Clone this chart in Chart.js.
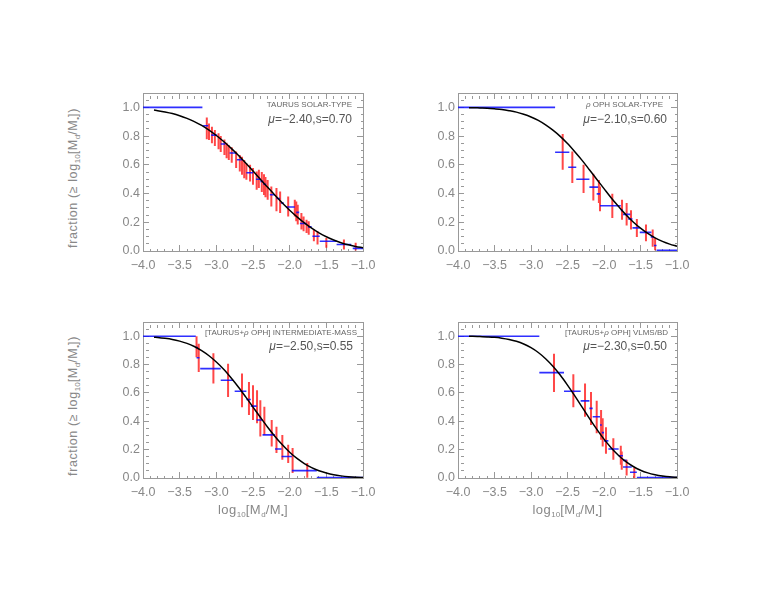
<!DOCTYPE html>
<html>
<head>
<meta charset="utf-8">
<title>Disk mass distributions</title>
<script src="https://cdn.jsdelivr.net/npm/chart.js"></script>
<style>
  body { margin: 0; background: #fff; }
  #page { position: relative; width: 770px; height: 595px; overflow: hidden;
          font-family: "Liberation Sans", Arial, sans-serif; color: #888; }
  canvas { position: absolute; }
  .lbl { position: absolute; white-space: nowrap; line-height: 1; }
  .ytitle { font-size: 12.5px; letter-spacing: 0.6px; transform: translate(-50%, -50%) rotate(-90deg); }
  .xtitle { font-size: 13px; letter-spacing: 0.5px; transform: translate(-50%, -50%); }
  .sample { font-size: 8px; transform: translate(-100%, -50%); color: #666; }
  .fit { font-size: 12px; transform: translate(-100%, -50%); color: #555; }
  .sb { font-size: 8px; position: relative; top: 3px; letter-spacing: 0; }
</style>
</head>
<body>
<div id="page"></div>
<script>
// tick labels
const xTicks = [-4.0, -3.5, -3.0, -2.5, -2.0, -1.5, -1.0];
const yTicks = [0.0, 0.2, 0.4, 0.6, 0.8, 1.0];

// panel texts
const sampleNames = ['TAURUS SOLAR-TYPE', '<i>\u03c1</i> OPH SOLAR-TYPE',
  '[TAURUS+<i>\u03c1</i> OPH] INTERMEDIATE-MASS', '[TAURUS+<i>\u03c1</i> OPH] VLMS/BD'];
const fitLabels = ['<i>\u03bc</i>=\u22122.40,s=0.70', '<i>\u03bc</i>=\u22122.10,s=0.60',
  '<i>\u03bc</i>=\u22122.50,s=0.55', '<i>\u03bc</i>=\u22122.30,s=0.50'];

// model curves (fraction >= x)
const curveX = [-3.85, -3.8, -3.7, -3.6, -3.5, -3.4, -3.3, -3.2, -3.1, -3.0, -2.9, -2.8, -2.7, -2.6, -2.5,
  -2.4, -2.3, -2.2, -2.1, -2.0, -1.9, -1.8, -1.7, -1.6, -1.5, -1.4, -1.3, -1.2, -1.1, -1.0];
const p1Curve = [0.981, 0.977, 0.968, 0.957, 0.942, 0.923, 0.901, 0.874, 0.841, 0.804, 0.762, 0.716, 0.666, 0.612, 0.557,
  0.500, 0.443, 0.388, 0.334, 0.284, 0.238, 0.196, 0.159, 0.126, 0.099, 0.077, 0.058, 0.043, 0.032, 0.023];
const p2Curve = [0.998, 0.998, 0.996, 0.994, 0.990, 0.985, 0.977, 0.967, 0.952, 0.933, 0.909, 0.878, 0.841, 0.798, 0.748,
  0.691, 0.631, 0.566, 0.500, 0.434, 0.369, 0.309, 0.252, 0.202, 0.159, 0.122, 0.091, 0.067, 0.048, 0.033];
const p3Curve = [0.993, 0.991, 0.985, 0.977, 0.965, 0.949, 0.927, 0.898, 0.862, 0.818, 0.767, 0.707, 0.642, 0.572, 0.500,
  0.428, 0.358, 0.293, 0.234, 0.182, 0.138, 0.102, 0.073, 0.051, 0.035, 0.023, 0.015, 0.009, 0.005, 0.003];
const p4Curve = [0.999, 0.999, 0.997, 0.995, 0.992, 0.986, 0.977, 0.964, 0.945, 0.919, 0.885, 0.841, 0.788, 0.726, 0.655,
  0.579, 0.500, 0.421, 0.345, 0.274, 0.212, 0.159, 0.115, 0.081, 0.055, 0.036, 0.023, 0.014, 0.008, 0.005];

// cumulative steps [x from, x to, fraction]
const p1Steps = [[-4.00, -3.19, 1.000], [-3.18, -3.11, 0.872], [-3.07, -2.99, 0.807], [-2.94, -2.88, 0.745],
  [-2.82, -2.73, 0.682], [-2.72, -2.65, 0.635], [-2.59, -2.50, 0.545], [-2.46, -2.40, 0.500], [-2.40, -2.36, 0.485],
  [-2.36, -2.32, 0.465], [-2.27, -2.20, 0.392], [-2.18, -2.13, 0.365], [-2.12, -2.08, 0.334], [-2.05, -1.93, 0.306],
  [-1.91, -1.87, 0.269], [-1.86, -1.77, 0.191], [-1.75, -1.70, 0.168], [-1.69, -1.59, 0.103], [-1.59, -1.36, 0.068],
  [-1.36, -1.16, 0.045], [-1.14, -1.00, 0.018]];
const p2Steps = [[-4.00, -2.67, 1.000], [-2.67, -2.475, 0.687], [-2.49, -2.38, 0.583], [-2.38, -2.20, 0.500],
  [-2.20, -2.08, 0.445], [-2.10, -2.055, 0.398], [-2.055, -1.77, 0.315], [-1.77, -1.74, 0.283], [-1.74, -1.64, 0.255],
  [-1.67, -1.61, 0.223], [-1.61, -1.51, 0.161], [-1.51, -1.35, 0.130], [-1.36, -1.315, 0.098], [-1.315, -1.28, 0.038],
  [-1.28, -1.00, 0.005]];
const p3Steps = [[-4.00, -3.28, 1.000], [-3.28, -3.25, 0.920], [-3.27, -3.23, 0.848], [-3.22, -2.94, 0.771],
  [-2.94, -2.77, 0.689], [-2.75, -2.59, 0.612], [-2.59, -2.53, 0.554], [-2.53, -2.45, 0.507], [-2.45, -2.37, 0.409],
  [-2.37, -2.20, 0.304], [-2.20, -2.11, 0.204], [-2.11, -1.97, 0.152], [-1.97, -1.63, 0.052], [-1.63, -1.00, 0.003]];
const p4Steps = [[-4.00, -2.886, 1.000], [-2.886, -2.548, 0.743], [-2.548, -2.32, 0.612], [-2.32, -2.20, 0.544],
  [-2.20, -2.155, 0.491], [-2.155, -2.055, 0.432], [-2.055, -2.03, 0.374], [-2.03, -2.00, 0.320], [-2.00, -1.94, 0.262],
  [-1.94, -1.80, 0.204], [-1.80, -1.74, 0.157], [-1.74, -1.69, 0.124], [-1.74, -1.62, 0.078], [-1.644, -1.55, 0.041],
  [-1.55, -1.00, 0.003]];

// error bars [x, low, high]
const p1Errors = [[-3.13, 0.778, 0.930], [-3.10, 0.773, 0.888], [-3.06, 0.750, 0.865], [-3.02, 0.731, 0.842],
  [-2.97, 0.708, 0.819], [-2.94, 0.690, 0.800], [-2.89, 0.669, 0.777], [-2.86, 0.646, 0.754], [-2.83, 0.634, 0.738],
  [-2.79, 0.615, 0.722], [-2.73, 0.577, 0.692], [-2.68, 0.553, 0.669], [-2.65, 0.530, 0.657], [-2.62, 0.507, 0.634],
  [-2.59, 0.496, 0.611], [-2.54, 0.484, 0.600], [-2.50, 0.461, 0.577], [-2.45, 0.426, 0.553], [-2.42, 0.438, 0.565],
  [-2.38, 0.410, 0.550], [-2.35, 0.390, 0.535], [-2.33, 0.375, 0.515], [-2.30, 0.357, 0.495], [-2.25, 0.310, 0.449],
  [-2.18, 0.276, 0.438], [-2.13, 0.265, 0.414], [-2.02, 0.241, 0.380], [-1.93, 0.241, 0.357], [-1.91, 0.207, 0.345],
  [-1.89, 0.184, 0.322], [-1.84, 0.149, 0.265], [-1.81, 0.137, 0.241], [-1.77, 0.126, 0.218], [-1.74, 0.114, 0.207],
  [-1.67, 0.068, 0.149], [-1.62, 0.045, 0.137], [-1.50, 0.022, 0.091], [-1.26, 0.010, 0.080], [-1.10, 0.003, 0.057]];
const p2Errors = [[-2.566, 0.565, 0.814], [-2.434, 0.473, 0.692], [-2.28, 0.403, 0.600], [-2.146, 0.352, 0.537],
  [-2.07, 0.334, 0.495], [-2.055, 0.276, 0.449], [-1.886, 0.230, 0.398], [-1.753, 0.218, 0.357], [-1.69, 0.177, 0.334],
  [-1.63, 0.149, 0.283], [-1.55, 0.098, 0.223], [-1.425, 0.068, 0.184], [-1.333, 0.029, 0.149], [-1.30, 0.006, 0.091]];
const p3Errors = [[-3.27, 0.852, 1.000], [-3.24, 0.747, 0.946], [-3.04, 0.666, 0.880], [-2.84, 0.572, 0.806],
  [-2.65, 0.498, 0.736], [-2.555, 0.444, 0.677], [-2.50, 0.409, 0.654], [-2.445, 0.386, 0.619], [-2.40, 0.292, 0.549],
  [-2.345, 0.304, 0.502], [-2.245, 0.222, 0.409], [-2.18, 0.176, 0.362], [-2.10, 0.129, 0.304], [-2.02, 0.106, 0.234],
  [-1.96, 0.036, 0.211], [-1.76, 0.001, 0.106]];
const p4Errors = [[-2.685, 0.607, 0.876], [-2.42, 0.498, 0.731], [-2.26, 0.432, 0.666], [-2.178, 0.374, 0.607],
  [-2.10, 0.316, 0.544], [-2.04, 0.269, 0.479], [-2.018, 0.222, 0.421], [-1.973, 0.171, 0.358], [-1.872, 0.129, 0.281],
  [-1.77, 0.094, 0.227], [-1.757, 0.059, 0.187], [-1.69, 0.017, 0.129], [-1.585, 0.000, 0.071]];

// layout
const FRAME = '#999';
const TEXT = '#888';
const AXIS_W = 50, AXIS_H = 36, PAD_T = 4, PAD_R = 16;

const panels = [
  { area: [143, 93, 363, 251], curve: p1Curve, steps: p1Steps, errors: p1Errors, note: [352, 105], fit: [352, 119] },
  { area: [458, 93, 677, 251], curve: p2Curve, steps: p2Steps, errors: p2Errors, note: [663, 105], fit: [667, 119] },
  { area: [143, 322, 363, 478], curve: p3Curve, steps: p3Steps, errors: p3Errors, note: [357, 333], fit: [353, 346] },
  { area: [458, 322, 677, 478], curve: p4Curve, steps: p4Steps, errors: p4Errors, note: [668, 333], fit: [667, 346] }
];

Chart.defaults.font.family = '"Liberation Sans", Arial, sans-serif';
Chart.defaults.font.size = 12;
Chart.defaults.color = TEXT;

function near(list, v) {
  return list.some(function(t) { return Math.abs(t - v) < 1e-6; });
}
function isXMajor(v) { return near(xTicks, v); }
function isYMajor(v) { return near(yTicks, v); }

// inward tick marks, minor ones drawn short with a dash
function tickGrid(isMajor) {
  return {
    drawOnChartArea: false,
    drawTicks: true,
    tickLength: -6,
    color: FRAME,
    tickColor: FRAME,
    tickWidth: 1,
    tickBorderDash: function(c) {
      return c.tick && !isMajor(c.tick.value) ? [3, 20] : [];
    }
  };
}

function segments(list, toPoints) {
  const out = [];
  list.forEach(function(row) {
    toPoints(row).forEach(function(p) { out.push(p); });
    out.push({ x: null, y: null });
  });
  return out;
}

const page = document.getElementById('page');

panels.forEach(function(p, i) {
  const L = p.area[0], T = p.area[1], R = p.area[2], B = p.area[3];
  const cv = document.createElement('canvas');
  cv.width = R - L + AXIS_W + PAD_R;
  cv.height = B - T + PAD_T + AXIS_H;
  cv.style.left = (L - AXIS_W) + 'px';
  cv.style.top = (T - PAD_T) + 'px';
  page.appendChild(cv);

  const curveData = curveX.map(function(x, k) { return { x: x, y: p.curve[k] }; });
  const stepData = segments(p.steps, function(r) { return [{ x: r[0], y: r[2] }, { x: r[1], y: r[2] }]; });
  const errData = segments(p.errors, function(r) { return [{ x: r[0], y: r[1] }, { x: r[0], y: r[2] }]; });

  new Chart(cv.getContext('2d'), {
    type: 'scatter',
    data: {
      datasets: [
        {
          label: 'model',
          data: curveData,
          showLine: true,
          borderColor: '#000',
          borderWidth: 1.5,
          pointRadius: 0,
          cubicInterpolationMode: 'monotone',
          xAxisID: 'x', yAxisID: 'y'
        },
        {
          label: 'cumulative',
          data: stepData,
          showLine: true,
          spanGaps: false,
          borderColor: 'rgba(10, 10, 255, 0.85)',
          borderWidth: 1.6,
          pointRadius: 0,
          xAxisID: 'x', yAxisID: 'y'
        },
        {
          label: 'errors',
          data: errData,
          showLine: true,
          spanGaps: false,
          borderColor: 'rgba(255, 0, 0, 0.72)',
          borderWidth: 2,
          pointRadius: 0,
          xAxisID: 'x', yAxisID: 'y'
        }
      ]
    },
    options: {
      responsive: false,
      animation: false,
      events: [],
      layout: { padding: { top: PAD_T, right: PAD_R, left: 0, bottom: 0 } },
      plugins: { legend: { display: false }, tooltip: { enabled: false } },
      scales: {
        x: {
          type: 'linear', position: 'bottom', min: -4, max: -1,
          border: { color: FRAME },
          grid: tickGrid(isXMajor),
          ticks: {
            stepSize: 0.1, autoSkip: false, maxRotation: 0, minRotation: 0, padding: 13, color: TEXT,
            font: { size: 12.5 },
            callback: function(v) { return isXMajor(v) ? v.toFixed(1).replace('-', '\u2212') : ''; }
          },
          afterFit: function(s) { s.height = AXIS_H; s.paddingLeft = 0; s.paddingRight = 0; }
        },
        x2: {
          type: 'linear', position: 'top', min: -4, max: -1,
          border: { color: FRAME },
          grid: tickGrid(isXMajor),
          ticks: { display: false, stepSize: 0.1, autoSkip: false },
          afterFit: function(s) { s.height = 0; s.paddingLeft = 0; s.paddingRight = 0; }
        },
        y: {
          type: 'linear', position: 'left', min: 0, max: 1.1,
          border: { color: FRAME },
          grid: tickGrid(isYMajor),
          ticks: {
            stepSize: 0.05, autoSkip: false, padding: 9, color: TEXT,
            font: { size: 12.5 },
            callback: function(v) { return isYMajor(v) ? v.toFixed(1) : ''; }
          },
          afterFit: function(s) { s.width = AXIS_W; s.paddingTop = 0; s.paddingBottom = 0; }
        },
        y2: {
          type: 'linear', position: 'right', min: 0, max: 1.1,
          border: { color: FRAME },
          grid: tickGrid(isYMajor),
          ticks: { display: false, stepSize: 0.05, autoSkip: false },
          afterFit: function(s) { s.width = 0; s.paddingTop = 0; s.paddingBottom = 0; }
        }
      }
    }
  });

  // sample name and fit parameters inside the frame
  addLabel('lbl sample', sampleNames[i], p.note[0], p.note[1]);
  addLabel('lbl fit', fitLabels[i], p.fit[0], p.fit[1]);

  // axis titles: y on the left column, x on the bottom row
  const axisText = 'log<span class="sb">10</span>[M<span class="sb">d</span>/M<span class="sb">\u2022</span>]';
  if (i % 2 === 0) {
    addLabel('lbl ytitle', 'fraction (\u2265 ' + axisText + ')', 73, (T + B) / 2 + 6);
  }
  if (i >= 2) {
    addLabel('lbl xtitle', axisText, (L + R) / 2, 509);
  }
});

function addLabel(cls, html, x, y) {
  const d = document.createElement('div');
  d.className = cls;
  d.innerHTML = html;
  d.style.left = x + 'px';
  d.style.top = y + 'px';
  page.appendChild(d);
}
</script>
</body>
</html>
